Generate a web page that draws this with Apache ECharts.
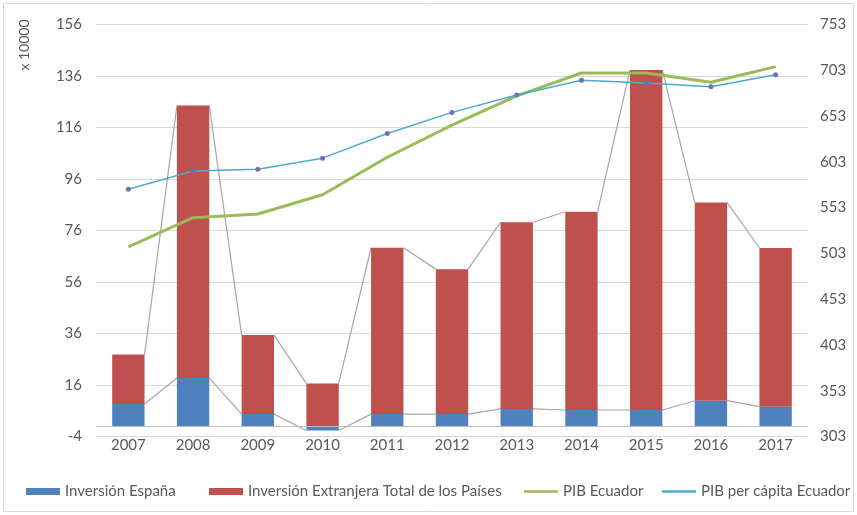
<!DOCTYPE html>
<html>
<head>
<meta charset="utf-8">
<script src="https://cdn.jsdelivr.net/npm/echarts@6/dist/echarts.min.js"></script>
<style>
html,body{margin:0;padding:0;background:#fff;}
#chart{width:857px;height:515px;}
</style>
</head>
<body>
<div id="chart"></div>
<script>
const years = ['2007','2008','2009','2010','2011','2012','2013','2014','2015','2016','2017'];
// x 10000 (left axis)
const inversionEspana = [8.6, 18.7, 4.7, -1.7, 4.7, 4.7, 6.7, 6.3, 6.3, 9.9, 7.6];
const inversionExtranjera = [19.2, 105.8, 30.7, 16.6, 64.6, 56.3, 72.5, 77.0, 132.0, 77.0, 61.6];
// right axis
const pibEcuador = [510, 542, 546, 567, 608, 643, 675, 700, 700, 690, 707];
const pibPerCapita = [573, 593, 595, 607, 634, 657, 676, 692, 689, 685, 698];

const names = ['Inversión España', 'Inversión Extranjera Total de los Países', 'PIB Ecuador', 'PIB per cápita Ecuador'];
const textColor = '#595959';
const font = 'Lato';
const fs = 15;

// series-line data: connect stack tops of neighbouring bars
const stackTop = inversionEspana.map((e, i) => (e > 0 ? e : 0) + inversionExtranjera[i]);
const seriesLineData = [];
for (let i = 0; i < years.length - 1; i++) {
  seriesLineData.push([i, inversionEspana[i], inversionEspana[i + 1], stackTop[i], stackTop[i + 1]]);
}

const chart = echarts.init(document.getElementById('chart'));
const legendBase = {
  top: 479, itemWidth: 34, itemHeight: 7, itemGap: 0,
  textStyle: { color: textColor, fontFamily: font, fontSize: fs },
  selectedMode: false
};
const lineIcon = 'path://M0,0H40V3H0Z';
chart.setOption({
  animation: false,
  textStyle: { fontFamily: font },
  grid: { left: 96, right: 49, top: 24.5, bottom: 78.5, containLabel: false },
  graphic: [
    { type: 'rect', shape: { x: 3.5, y: 3.5, width: 850, height: 508 }, style: { fill: 'none', stroke: '#d9d9d9', lineWidth: 1 }, silent: true },
    { type: 'text', x: 24, y: 45, rotation: Math.PI / 2, style: { text: 'x 10000', align: 'center', verticalAlign: 'middle', fill: textColor, font: '14px Lato' }, silent: true }
  ],
  legend: [
    Object.assign({}, legendBase, { left: 21, data: [{ name: names[0], icon: 'rect' }] }),
    Object.assign({}, legendBase, { left: 204, data: [{ name: names[1], icon: 'rect' }] }),
    Object.assign({}, legendBase, { left: 519, data: [{ name: names[2], icon: lineIcon, itemStyle: { color: '#9bbb59', borderWidth: 0 } }] }),
    Object.assign({}, legendBase, { left: 657, data: [{ name: names[3], icon: lineIcon, itemStyle: { color: '#4bacc6', borderWidth: 0 } }] })
  ],
  xAxis: {
    type: 'category', data: years,
    axisLine: { show: false }, axisTick: { show: false },
    axisLabel: { color: textColor, fontSize: fs, fontFamily: font, margin: 1 }
  },
  yAxis: [
    {
      type: 'value', min: -4, max: 156, interval: 20,
      axisLine: { show: false }, axisTick: { show: false },
      axisLabel: { color: textColor, fontSize: fs, fontFamily: font, margin: 14 },
      splitLine: { lineStyle: { color: '#d9d9d9', width: 1 } }
    },
    {
      type: 'value', min: 303, max: 753, interval: 50, position: 'right',
      axisLine: { show: false }, axisTick: { show: false },
      axisLabel: { color: textColor, fontSize: fs, fontFamily: font, margin: 12 },
      splitLine: { show: false }
    }
  ],
  series: [
    {
      name: names[0], type: 'bar', stack: 'inv', data: inversionEspana, barWidth: '50%',
      itemStyle: { color: '#4f81bd' },
      markLine: { silent: true, symbol: 'none', label: { show: false }, lineStyle: { color: '#bfbfbf', type: 'solid', width: 1 }, data: [{ yAxis: 0 }] }
    },
    {
      name: names[1], type: 'bar', stack: 'inv', data: inversionExtranjera, barWidth: '50%',
      itemStyle: { color: '#c0504d' }
    },
    {
      type: 'custom', yAxisIndex: 0, data: seriesLineData, silent: true, z: 1,
      encode: { x: 0, y: [1, 2, 3, 4] },
      renderItem: function (params, api) {
        const i = api.value(0);
        const half = api.size([1, 0])[0] * 0.25;
        const a1 = api.coord([i, api.value(1)]);
        const a2 = api.coord([i + 1, api.value(2)]);
        const b1 = api.coord([i, api.value(3)]);
        const b2 = api.coord([i + 1, api.value(4)]);
        const st = { stroke: '#a6a6a6', lineWidth: 1.2, fill: 'none' };
        return {
          type: 'group',
          children: [
            { type: 'line', shape: { x1: a1[0] + half, y1: a1[1], x2: a2[0] - half, y2: a2[1] }, style: st },
            { type: 'line', shape: { x1: b1[0] + half, y1: b1[1], x2: b2[0] - half, y2: b2[1] }, style: st }
          ]
        };
      }
    },
    {
      name: names[2], type: 'line', yAxisIndex: 1, data: pibEcuador,
      symbol: 'none', lineStyle: { color: '#9bbb59', width: 3 }, itemStyle: { color: '#9bbb59' }, z: 3
    },
    {
      name: names[3], type: 'line', yAxisIndex: 1, data: pibPerCapita,
      symbol: 'circle', symbolSize: 5, showSymbol: true,
      lineStyle: { color: '#4bacc6', width: 1.5 }, itemStyle: { color: '#7570b3' }, z: 4
    }
  ]
});
</script>
</body>
</html>
